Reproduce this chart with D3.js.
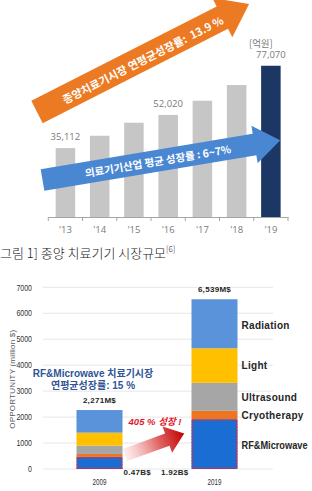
<!DOCTYPE html>
<html><head><meta charset="utf-8">
<script src="https://cdn.jsdelivr.net/npm/d3@7"></script>
<style>body{margin:0;background:#fff} svg{display:block}</style>
</head><body>
<script>
// ---------- data: top chart ----------
const topYears = ["'13","'14","'15","'16","'17","'18","'19"];
const topValues = [35112, 41400, 48040, 52020, 59240, 67240, 77070];
const topValueLabels = ["35,112", "", "", "52,020", "", "", "77,070"];
const topUnit = "[억원]";
const orangeArrowText = "종양치료기시장 연평균성장률:  13.9 %";
const blueArrowText = "의료기기산업 평균 성장률 : 6~7%";
const captionText = "그림 1] 종양 치료기기 시장규모";
const captionRef = "[6]";

// ---------- data: bottom chart ----------
const bottomYears = ["2009", "2019"];
const segmentNames = ["RF&Microwave", "Cryotherapy", "Ultrasound", "Light", "Radiation"];
const rfMicrowave = [470, 1920];
const cryotherapy = [110, 320];
const ultrasound = [320, 1080];
const light = [500, 1330];
const radiation = [871, 1889];
const totalLabels = ["2,271M$", "6,539M$"];
const rfLabels = ["0.47B$", "1.92B$"];
const yTicks = [0, 1000, 2000, 3000, 4000, 5000, 6000, 7000];
const yTitle = "OPPORTUNITY (million $)";
const calloutLines = ["RF&Microwave 치료기시장", "연평균성장률: 15 %"];
const growthText = "405 % 성장 !";

const W = 312, H = 491;
const svg = d3.select("body").append("svg").attr("width", W).attr("height", H);
const defs = svg.append("defs");
const KR = "'Noto Sans CJK KR', 'Noto Sans', sans-serif";
const LAT = "'Open Sans', 'Noto Sans', 'Noto Sans CJK KR', sans-serif";
const ARIAL = "'Liberation Sans', Arial, sans-serif";

function arrowPath(len, bodyT, headL, headW) {
  const b = len - headL;
  return `M0,${-bodyT/2}L${b},${-bodyT/2}L${b},${-headW/2}L${len},0L${b},${headW/2}L${b},${bodyT/2}L0,${bodyT/2}Z`;
}

// ================= TOP CHART =================
const xT = d3.scaleBand().domain(topYears).range([48.3, 288]).paddingInner(0.43).paddingOuter(0.215);
const yT = d3.scaleLinear().domain([0, 80000]).range([217, 60]);

const topG = svg.append("g");
topG.selectAll("rect.bar").data(topValues).join("rect")
  .attr("x", (d, i) => xT(topYears[i]))
  .attr("width", xT.bandwidth())
  .attr("y", d => yT(d))
  .attr("height", d => yT(0) - yT(d))
  .attr("fill", (d, i) => i === topValues.length - 1 ? "#1c3763" : "#c6c6c6");

const axT = d3.axisBottom(xT).tickSize(0).tickPadding(9);
const axG = topG.append("g").attr("transform", `translate(0,${yT(0)})`).call(axT);
axG.select(".domain").attr("stroke", "#a6a6a6").attr("stroke-width", 1.2);
axG.selectAll("text").attr("fill", "#7a7a7a").attr("font-size", 9.5).attr("font-family", LAT);
const step = xT.step();
d3.range(topYears.length + 1).forEach(i => {
  const xx = xT.range()[0] + i * step;
  axG.append("line").attr("x1", xx).attr("x2", xx).attr("y1", 0).attr("y2", 4)
    .attr("stroke", "#a6a6a6").attr("stroke-width", 1);
});

topG.selectAll("text.val").data(topValues).join("text")
  .attr("x", (d, i) => xT(topYears[i]) + xT.bandwidth() / 2)
  .attr("y", d => yT(d) - 8)
  .attr("text-anchor", "middle")
  .attr("font-size", 9.5).attr("font-family", LAT).attr("fill", "#7a7a7a")
  .text((d, i) => topValueLabels[i]);
topG.append("text")
  .attr("x", xT(topYears[6]) + xT.bandwidth() / 2 - 10)
  .attr("y", yT(topValues[6]) - 19)
  .attr("text-anchor", "middle")
  .attr("font-size", 9.5).attr("font-family", KR).attr("fill", "#7a7a7a")
  .text(topUnit);

// orange arrow
const oA = topG.append("g").attr("transform", "translate(37,112) rotate(-27)");
oA.append("path").attr("d", arrowPath(238, 25, 30, 44)).attr("fill", "#ec7a22");
oA.append("text").attr("x", 118).attr("y", 1).attr("text-anchor", "middle")
  .attr("dominant-baseline", "central").attr("fill", "#fff").attr("font-weight", "bold")
  .attr("font-size", 11).attr("font-family", KR).attr("xml:space", "preserve")
  .text(orangeArrowText);

// blue arrow
const bA = topG.append("g").attr("transform", "translate(42.5,180) rotate(-9.5)");
bA.append("path").attr("d", arrowPath(241, 22, 26, 38)).attr("fill", "#4a87d3");
bA.append("text").attr("x", 117).attr("y", 0).attr("text-anchor", "middle")
  .attr("dominant-baseline", "central").attr("fill", "#fff").attr("font-weight", "bold")
  .attr("font-size", 10.5).attr("font-family", KR)
  .text(blueArrowText);

// caption
const cap = svg.append("text").attr("x", 0).attr("y", 258)
  .attr("font-size", 13).attr("font-family", KR).attr("font-weight", 300).attr("fill", "#222");
cap.append("tspan").text(captionText);
cap.append("tspan").attr("dy", -6).attr("font-size", 8).text(captionRef);

// ================= BOTTOM CHART =================
const xB = d3.scaleBand().domain(bottomYears).range([42, 272]).paddingInner(0.6).paddingOuter(0.3);
const yB = d3.scaleLinear().domain([0, 7000]).range([469, 287.3]);

const botG = svg.append("g");
botG.selectAll("line.grid").data(yTicks).join("line")
  .attr("x1", 43).attr("x2", 273)
  .attr("y1", d => yB(d)).attr("y2", d => yB(d))
  .attr("stroke", "#e6e6e6").attr("stroke-width", 1);
const ayG = botG.append("g").attr("transform", "translate(32,0)")
  .call(d3.axisLeft(yB).tickValues(yTicks).tickSize(0).tickPadding(0).tickFormat(d3.format("d")));
ayG.select(".domain").remove();
ayG.selectAll("text").attr("font-size", 8.5).attr("font-family", ARIAL).attr("fill", "#333")
  .attr("textLength", d => String(d).length * 3.9).attr("lengthAdjust", "spacingAndGlyphs");
botG.append("text").attr("transform", `translate(12.5,${yB(3500) + 1}) rotate(-90)`)
  .attr("text-anchor", "middle").attr("dominant-baseline", "central")
  .attr("font-size", 8).attr("font-family", ARIAL).attr("fill", "#595959")
  .attr("letter-spacing", 0.2)
  .text(yTitle);
const axB = botG.append("g").attr("transform", `translate(0,${yB(0)})`)
  .call(d3.axisBottom(xB).tickSize(0).tickPadding(10));
axB.select(".domain").remove();
axB.selectAll("text").attr("font-size", 8.5).attr("font-family", ARIAL).attr("fill", "#333")
  .attr("textLength", 14).attr("lengthAdjust", "spacingAndGlyphs");

const table = bottomYears.map((y, i) => ({
  year: y,
  "RF&Microwave": rfMicrowave[i], "Cryotherapy": cryotherapy[i], "Ultrasound": ultrasound[i],
  "Light": light[i], "Radiation": radiation[i]
}));
const stacked = d3.stack().keys(segmentNames)(table);
const segColor = d3.scaleOrdinal().domain(segmentNames)
  .range(["#1a6dd3", "#ee7420", "#a6a6a6", "#ffc000", "#5b93da"]);
botG.selectAll("g.seg").data(stacked).join("g").attr("fill", d => segColor(d.key))
  .selectAll("rect").data(d => d).join("rect")
  .attr("x", d => xB(d.data.year)).attr("width", xB.bandwidth())
  .attr("y", d => yB(d[1])).attr("height", d => yB(d[0]) - yB(d[1]));

botG.selectAll("rect.rfb").data(stacked[0]).join("rect")
  .attr("x", d => xB(d.data.year) + 0.8).attr("width", xB.bandwidth() - 1.6)
  .attr("y", d => yB(d[1]) + 0.8).attr("height", d => yB(d[0]) - yB(d[1]) - 1.6)
  .attr("fill", "none").attr("stroke", "#e2283f").attr("stroke-width", 1.6)
  .attr("stroke-dasharray", "1.6,1.4");

const labelOffsets = {"RF&Microwave": 1.5, "Cryotherapy": 0, "Ultrasound": 1, "Light": 0, "Radiation": 2};
botG.selectAll("text.seg").data(stacked).join("text")
  .attr("x", 241.5)
  .attr("y", d => yB((d[1][0] + d[1][1]) / 2) + labelOffsets[d.key])
  .attr("dominant-baseline", "central")
  .attr("font-size", 10).attr("font-weight", "bold")
  .attr("letter-spacing", d => d.key === "RF&Microwave" ? 0 : 0.3)
  .attr("font-family", ARIAL).attr("fill", "#262626")
  .each(function(d) { if (d.key === "RF&Microwave") d3.select(this).attr("textLength", 66).attr("lengthAdjust", "spacingAndGlyphs"); })
  .text(d => d.key);

const totals = table.map((d, i) => radiation[i] + light[i] + ultrasound[i] + cryotherapy[i] + rfMicrowave[i]);
botG.selectAll("text.tot").data(totals).join("text")
  .attr("x", (d, i) => xB(bottomYears[i]) + xB.bandwidth() / 2)
  .attr("y", d => yB(d) - 7)
  .attr("text-anchor", "middle")
  .attr("font-size", 8).attr("font-weight", "bold").attr("letter-spacing", 0.3)
  .attr("font-family", ARIAL).attr("fill", "#262626")
  .text((d, i) => totalLabels[i]);
botG.append("text").attr("x", xB(bottomYears[0]) + xB.bandwidth() + 1).attr("y", yB(0) + 6)
  .attr("font-size", 8).attr("font-weight", "bold").attr("letter-spacing", 0.3)
  .attr("font-family", ARIAL).attr("fill", "#262626")
  .text(rfLabels[0]);
botG.append("text").attr("x", xB(bottomYears[1]) - 3).attr("y", yB(0) + 6)
  .attr("text-anchor", "end")
  .attr("font-size", 8).attr("font-weight", "bold").attr("letter-spacing", 0.3)
  .attr("font-family", ARIAL).attr("fill", "#262626")
  .text(rfLabels[1]);

calloutLines.forEach((t, i) => {
  botG.append("text").attr("x", 93).attr("y", 377 + i * 12)
    .attr("text-anchor", "middle")
    .attr("font-size", 10).attr("font-weight", "bold")
    .attr("font-family", "'Liberation Sans', 'Noto Sans CJK KR', sans-serif").attr("fill", "#2f5597")
    .text(t);
});

const grad = defs.append("linearGradient").attr("id", "redGrad");
grad.append("stop").attr("offset", "0%").attr("stop-color", "#fbe3e3").attr("stop-opacity", 0.6);
grad.append("stop").attr("offset", "55%").attr("stop-color", "#e36a6a");
grad.append("stop").attr("offset", "100%").attr("stop-color", "#c00000");
const rA = botG.append("g").attr("transform", "translate(125,455) rotate(-20)");
rA.append("path").attr("d", arrowPath(63, 13, 18, 28)).attr("fill", "url(#redGrad)");

botG.append("text").attr("x", 155).attr("y", 425)
  .attr("text-anchor", "middle")
  .attr("font-size", 9.5).attr("font-weight", "bold").attr("font-style", "italic")
  .attr("font-family", "'Liberation Sans', 'Noto Sans CJK KR', sans-serif").attr("fill", "#e0182d")
  .attr("xml:space", "preserve")
  .text(growthText);
</script>
</body></html>
